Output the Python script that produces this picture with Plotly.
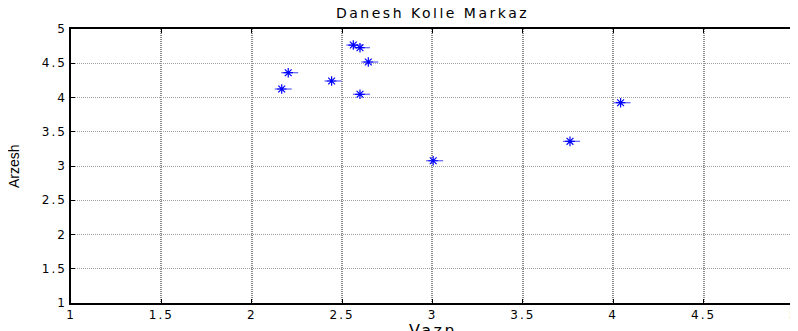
import plotly.graph_objects as go

vazn = [2.562, 2.599, 2.645, 2.202, 2.166, 2.442, 2.599, 3.004, 3.761, 4.041]
arzesh = [4.766, 4.727, 4.518, 4.362, 4.124, 4.241, 4.047, 3.077, 3.360, 3.924]
err_plus = [0.055] * len(vazn)
err_minus = [0.039] * len(vazn)

x_ticks = [1, 1.5, 2, 2.5, 3, 3.5, 4, 4.5, 5]
y_ticks = [1, 1.5, 2, 2.5, 3, 3.5, 4, 4.5, 5]


def wide(s, sp):
    return f'<span style="letter-spacing:{sp}px">{s}</span>'


fig = go.Figure()
fig.add_trace(go.Scatter(
    x=vazn, y=arzesh, mode="markers",
    marker=dict(symbol="asterisk-open", size=8, color="#0000ff",
                line=dict(color="#0000ff", width=1.2)),
    error_x=dict(type="data", symmetric=False, array=err_plus, arrayminus=err_minus,
                 color="rgba(40,40,255,0.75)", thickness=1.2, width=0),
    showlegend=False,
))

tick_font = dict(family="DejaVu Sans", size=12, color="black")
axis_common = dict(
    showline=True, linecolor="black", linewidth=1.5, mirror="ticks",
    ticks="inside", ticklen=4, tickcolor="black",
    zeroline=False, automargin=False, ticklabeloverflow="allow",
    tickfont=tick_font,
)

# page body has an 8px margin, so the figure is shrunk/offset to fit the 798x331 window
fig.update_layout(
    width=790, height=323,
    margin=dict(l=63, r=4, t=21, b=28),
    paper_bgcolor="white", plot_bgcolor="white",
    xaxis=dict(range=[1, 5.0005], tickvals=x_ticks, ticktext=[wide(v, 2) for v in x_ticks],
               gridcolor="#8c8c8c", griddash="1px,1px", gridwidth=1.5,
               **axis_common),
    yaxis=dict(range=[1, 5], tickvals=y_ticks, ticktext=[wide(v, 2) for v in y_ticks],
               gridcolor="#a0a0a0", griddash="1px,1px", gridwidth=1,
               **axis_common),
    annotations=[
        dict(text=wide("Danesh Kolle Markaz", 2.5), xref="paper", yref="paper", x=0.5, y=1,
             yshift=16, xanchor="center", yanchor="middle", showarrow=False,
             font=dict(family="DejaVu Sans", size=14, color="black")),
        dict(text=wide("Vazn", 2.5), xref="paper", yref="paper", x=0.5, y=0,
             yshift=-27, xanchor="center", yanchor="middle", showarrow=False,
             font=dict(family="DejaVu Sans", size=16, color="black")),
        dict(text="Arzesh", xref="paper", yref="paper", x=0, y=0.5,
             xshift=-57, xanchor="center", yanchor="middle", showarrow=False, textangle=-90,
             font=dict(family="Liberation Sans Narrow, Liberation Sans", size=14, color="black")),
    ],
)

fig.write_html("out.html")
